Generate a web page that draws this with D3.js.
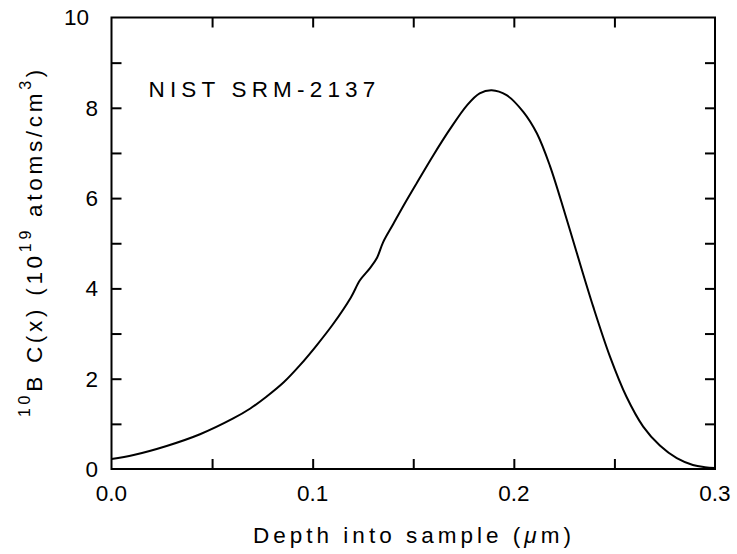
<!DOCTYPE html>
<html>
<head>
<meta charset="utf-8">
<script src="https://cdn.jsdelivr.net/npm/d3@7"></script>
<style>
  html, body { margin: 0; padding: 0; background: #fff; }
  svg { display: block; }
  text { font-family: "Liberation Sans", Arial, sans-serif; fill: #000; }
</style>
</head>
<body>
<svg id="chart" width="737" height="554"></svg>
<script>
// ---- data ----
const depth = [0, 0.011, 0.0274, 0.044, 0.0605, 0.069, 0.077, 0.0856, 0.0937,
  0.102, 0.110, 0.119, 0.1235, 0.1285, 0.132, 0.135, 0.140, 0.145, 0.1517,
  0.160, 0.168, 0.1768, 0.183, 0.189, 0.1964, 0.2047, 0.2115, 0.2179, 0.2254,
  0.2312, 0.2395, 0.2478, 0.256, 0.2643, 0.2726, 0.281, 0.289, 0.295, 0.3];
const conc = [0.22, 0.31, 0.51, 0.77, 1.12, 1.34, 1.60, 1.92, 2.30,
  2.74, 3.20, 3.80, 4.18, 4.45, 4.68, 5.02, 5.42, 5.82, 6.33,
  6.95, 7.51, 8.06, 8.32, 8.39, 8.28, 7.91, 7.43, 6.72, 5.66,
  4.80, 3.59, 2.49, 1.60, 0.94, 0.52, 0.24, 0.09, 0.04, 0.02];
const xTickValues = [0.05, 0.1, 0.15, 0.2, 0.25];
const xLabelValues = [0, 0.1, 0.2, 0.3];
const xTickLabels = ["0.0", "0.1", "0.2", "0.3"];
const yTickValues = [1, 2, 3, 4, 5, 6, 7, 8, 9];
const yLabelValues = [0, 2, 4, 6, 8, 10];
const yTickLabels = ["0", "2", "4", "6", "8", "10"];
const annotation = "NIST SRM-2137";

// ---- layout ----
const svg = d3.select("#chart");
const x = d3.scaleLinear().domain([0, 0.3]).range([111.5, 715]);
const y = d3.scaleLinear().domain([0, 10]).range([469, 17.5]);
const FS = 22.5;

function fitWidth(sel, target) {
  const n = sel.text().length;
  const w = sel.node().getComputedTextLength();
  sel.attr("letter-spacing", ((target - w) / n).toFixed(2));
}

// ticks (inward on all four sides)
function styleAxis(g) {
  g.select(".domain").remove();
  g.selectAll(".tick line").attr("stroke", "#000").attr("stroke-width", 2);
}
svg.append("g").attr("transform", `translate(0,${y(0)})`)
  .call(d3.axisBottom(x).tickValues(xTickValues).tickSize(-10).tickFormat("")).call(styleAxis);
svg.append("g").attr("transform", `translate(0,${y(10)})`)
  .call(d3.axisTop(x).tickValues(xTickValues).tickSize(-10).tickFormat("")).call(styleAxis);
svg.append("g").attr("transform", `translate(${x(0)},0)`)
  .call(d3.axisLeft(y).tickValues(yTickValues).tickSize(-10).tickFormat("")).call(styleAxis);
svg.append("g").attr("transform", `translate(${x(0.3)},0)`)
  .call(d3.axisRight(y).tickValues(yTickValues).tickSize(-10).tickFormat("")).call(styleAxis);

// frame
svg.append("rect")
  .attr("x", x(0)).attr("y", y(10))
  .attr("width", x(0.3) - x(0)).attr("height", y(0) - y(10))
  .attr("fill", "none").attr("stroke", "#000").attr("stroke-width", 2);

// tick labels
svg.append("g").selectAll("text").data(xLabelValues).join("text")
  .attr("x", d => x(d)).attr("y", 501)
  .attr("text-anchor", "middle").attr("font-size", FS)
  .text((d, i) => xTickLabels[i]);
svg.append("g").selectAll("text").data(yLabelValues).join("text")
  .attr("x", d => d === 10 ? 89 : 98).attr("y", d => y(d) + 7.8)
  .attr("text-anchor", "end").attr("font-size", FS)
  .text((d, i) => yTickLabels[i]);

// curve
const line = d3.line().x((d, i) => x(depth[i])).y(d => y(d)).curve(d3.curveCatmullRom.alpha(0.5));
svg.append("path").datum(conc)
  .attr("d", line)
  .attr("fill", "none").attr("stroke", "#000").attr("stroke-width", 2)
  .attr("stroke-linejoin", "round");

// annotation
const ann = svg.append("text").attr("x", 148.5).attr("y", 97).attr("font-size", FS).text(annotation);
fitWidth(ann, 232);

// x axis title
const xt = svg.append("text").attr("x", 253).attr("y", 543).attr("font-size", FS);
xt.append("tspan").text("Depth into sample (");
xt.append("tspan").attr("font-style", "italic").text("\u03bc");
xt.append("tspan").text("m)");
fitWidth(xt, 322);

// y axis title
const yt = svg.append("text").attr("transform", "translate(42,417) rotate(-90)").attr("font-size", FS);
yt.append("tspan").attr("font-size", 16).attr("dy", -12).text("10");
yt.append("tspan").attr("dy", 12).text("B C(x) (10");
yt.append("tspan").attr("font-size", 16).attr("dy", -11).text("19");
yt.append("tspan").attr("dy", 11).text(" atoms/cm");
yt.append("tspan").attr("font-size", 16).attr("dy", -11).text("3");
yt.append("tspan").attr("dy", 11).text(")");
fitWidth(yt, 351);
</script>
</body>
</html>
